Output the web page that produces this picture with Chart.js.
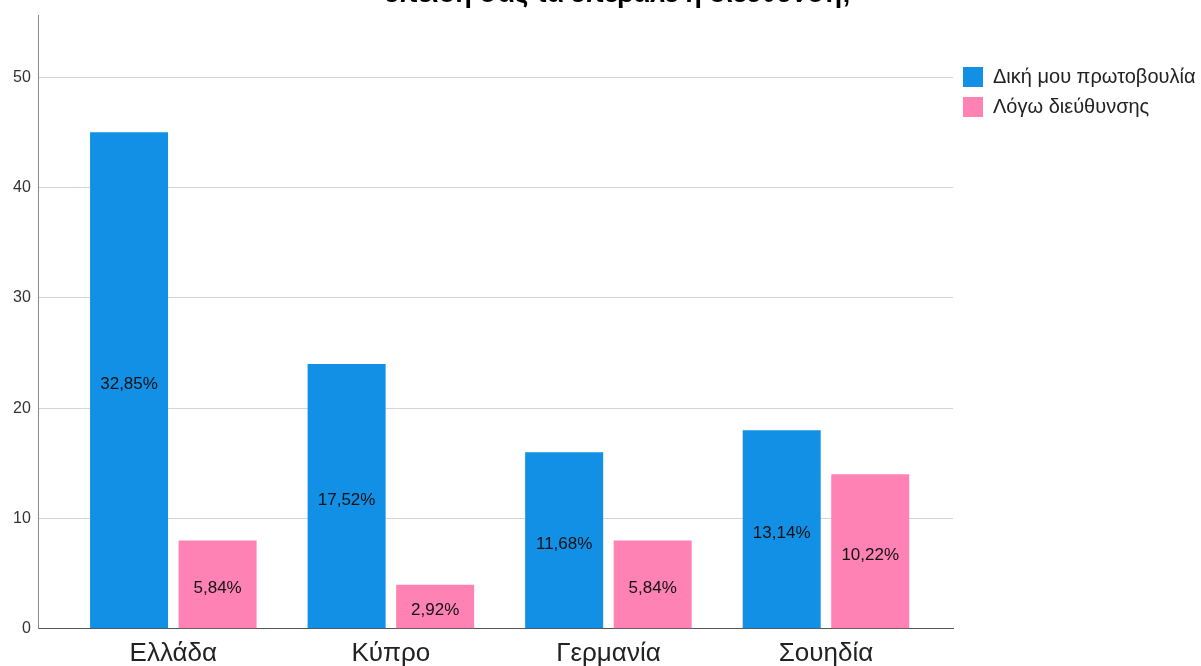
<!DOCTYPE html>
<html>
<head>
<meta charset="utf-8">
<script src="https://cdn.jsdelivr.net/npm/chart.js@4.4.0/dist/chart.umd.min.js"></script>
<style>
  html, body { margin: 0; padding: 0; background: #fff; overflow: hidden; }
  #wrap { position: absolute; left: 0; top: -30px; width: 1201px; height: 709px; }
</style>
</head>
<body>
<div id="wrap"><canvas id="c"></canvas></div>
<script>
const titleText = 'επειδή σας τα επέβαλε η διεύθυνση;';
const categories = ['Ελλάδα', 'Κύπρο', 'Γερμανία', 'Σουηδία'];
const seriesNames = ['Δική μου πρωτοβουλία', 'Λόγω διεύθυνσης'];
const initiative = [45, 24, 16, 18];
const management = [8, 4, 8, 14];
const initiativeLabels = ['32,85%', '17,52%', '11,68%', '13,14%'];
const managementLabels = ['5,84%', '2,92%', '5,84%', '10,22%'];
const yTicks = [0, 10, 20, 30, 40, 50];

const FONT = "'Liberation Sans', Arial, sans-serif";

const barLabels = {
  id: 'barLabels',
  afterDatasetsDraw(chart) {
    const ctx = chart.ctx;
    const lists = [initiativeLabels, managementLabels];
    ctx.save();
    ctx.font = '17px ' + FONT;
    ctx.fillStyle = '#111';
    ctx.textAlign = 'center';
    ctx.textBaseline = 'middle';
    chart.data.datasets.forEach((ds, di) => {
      const meta = chart.getDatasetMeta(di);
      meta.data.forEach((el, i) => {
        const y = (el.y + el.base) / 2 + 4;
        ctx.fillText(lists[di][i], el.x, y);
      });
    });
    ctx.restore();
  }
};

new Chart(document.getElementById('c'), {
  type: 'bar',
  data: {
    datasets: [
      {
        label: seriesNames[0],
        data: initiative.map((v, i) => ({ x: i, y: v })),
        backgroundColor: '#1190e6',
        borderWidth: 0
      },
      {
        label: seriesNames[1],
        data: management.map((v, i) => ({ x: i, y: v })),
        backgroundColor: '#ff82b4',
        borderWidth: 0
      }
    ]
  },
  options: {
    responsive: true,
    maintainAspectRatio: false,
    animation: false,
    devicePixelRatio: 1,
    categoryPercentage: 0.814,
    barPercentage: 0.881,
    layout: { padding: { left: 5, right: 0, top: 0, bottom: 0 } },
    plugins: {
      title: {
        display: true,
        text: '    ' + titleText,
        color: '#000',
        font: { family: FONT, size: 27, weight: 'bold' },
        padding: { top: 8, bottom: 5 }
      },
      legend: {
        position: 'right',
        align: 'start',
        maxWidth: 248,
        title: { display: true, text: ' ', font: { size: 10 }, padding: { top: 75, bottom: 0 } },
        labels: {
          boxWidth: 20,
          boxHeight: 20,
          padding: 10,
          color: '#222',
          font: { family: FONT, size: 20 }
        }
      },
      tooltip: { enabled: false }
    },
    scales: {
      x: {
        type: 'linear',
        offset: false,
        min: -0.6184,
        max: 3.5839,
        grid: { display: false, drawTicks: false },
        border: { display: true, color: '#555', width: 1 },
        afterBuildTicks(axis) {
          axis.ticks = categories.map((c, i) => ({ value: i }));
        },
        ticks: {
          padding: 9.5,
          color: '#222',
          font: { family: FONT, size: 26 },
          callback: (v) => categories[v] ?? ''
        }
      },
      y: {
        min: 0,
        max: 55.6,
        grid: { color: '#d4d4d4', lineWidth: 1, drawTicks: false },
        border: { display: true, color: '#888', width: 1 },
        afterBuildTicks(axis) {
          axis.ticks = yTicks.map(v => ({ value: v }));
        },
        ticks: {
          padding: 8,
          color: '#333',
          font: { family: FONT, size: 16 }
        }
      }
    }
  },
  plugins: [barLabels]
});
</script>
</body>
</html>
